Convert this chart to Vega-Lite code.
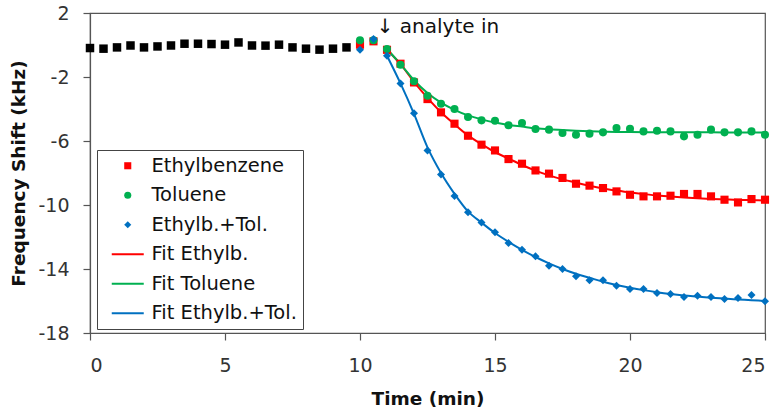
{
  "$schema": "https://vega.github.io/schema/vega-lite/v6.json",
  "autosize": "none",
  "width": 675,
  "height": 320,
  "padding": {"left": 90, "top": 13, "right": 13, "bottom": 87},
  "config": {
    "font": "DejaVu Sans",
    "view": {"stroke": "#555", "strokeWidth": 1.2},
    "axis": {
      "grid": false,
      "domainColor": "#555",
      "tickColor": "#555",
      "domainWidth": 1.2,
      "tickWidth": 1.2,
      "tickSize": 7,
      "labelFont": "DejaVu Sans",
      "labelFontSize": 19,
      "labelColor": "#333",
      "titleFont": "DejaVu Sans",
      "titleFontSize": 18.5,
      "titleFontWeight": "bold",
      "titleColor": "#111"
    }
  },
  "datasets": {
    "base": [
      {"t": 0, "v": -0.19}, {"t": 0.5, "v": -0.23}, {"t": 1, "v": -0.15}, {"t": 1.5, "v": -0.03},
      {"t": 2, "v": -0.15}, {"t": 2.5, "v": -0.09}, {"t": 3, "v": -0.03}, {"t": 3.5, "v": 0.08},
      {"t": 4, "v": 0.08}, {"t": 4.5, "v": 0.06}, {"t": 5, "v": 0.02}, {"t": 5.5, "v": 0.16},
      {"t": 6, "v": -0.03}, {"t": 6.5, "v": -0.04}, {"t": 7, "v": 0.02}, {"t": 7.5, "v": -0.15},
      {"t": 8, "v": -0.23}, {"t": 8.5, "v": -0.29}, {"t": 9, "v": -0.23}, {"t": 9.5, "v": -0.15}
    ],
    "pts": [
      {"s": "Ethylbenzene", "t": 10, "v": 0.02}, {"s": "Ethylbenzene", "t": 10.5, "v": 0.23}, {"s": "Ethylbenzene", "t": 11, "v": -0.3},
      {"s": "Ethylbenzene", "t": 11.5, "v": -1.17}, {"s": "Ethylbenzene", "t": 12, "v": -2.34}, {"s": "Ethylbenzene", "t": 12.5, "v": -3.38},
      {"s": "Ethylbenzene", "t": 13, "v": -4.21}, {"s": "Ethylbenzene", "t": 13.5, "v": -4.92}, {"s": "Ethylbenzene", "t": 14, "v": -5.67},
      {"s": "Ethylbenzene", "t": 14.5, "v": -6.23}, {"s": "Ethylbenzene", "t": 15, "v": -6.59}, {"s": "Ethylbenzene", "t": 15.5, "v": -7.13},
      {"s": "Ethylbenzene", "t": 16, "v": -7.42}, {"s": "Ethylbenzene", "t": 16.5, "v": -7.84}, {"s": "Ethylbenzene", "t": 17, "v": -8.04},
      {"s": "Ethylbenzene", "t": 17.5, "v": -8.31}, {"s": "Ethylbenzene", "t": 18, "v": -8.67}, {"s": "Ethylbenzene", "t": 18.5, "v": -8.79},
      {"s": "Ethylbenzene", "t": 19, "v": -8.94}, {"s": "Ethylbenzene", "t": 19.5, "v": -9.15}, {"s": "Ethylbenzene", "t": 20, "v": -9.36},
      {"s": "Ethylbenzene", "t": 20.5, "v": -9.46}, {"s": "Ethylbenzene", "t": 21, "v": -9.46}, {"s": "Ethylbenzene", "t": 21.5, "v": -9.42},
      {"s": "Ethylbenzene", "t": 22, "v": -9.31}, {"s": "Ethylbenzene", "t": 22.5, "v": -9.31}, {"s": "Ethylbenzene", "t": 23, "v": -9.46},
      {"s": "Ethylbenzene", "t": 23.5, "v": -9.67}, {"s": "Ethylbenzene", "t": 24, "v": -9.84}, {"s": "Ethylbenzene", "t": 24.5, "v": -9.63},
      {"s": "Ethylbenzene", "t": 25, "v": -9.67},
      {"s": "Toluene", "t": 10, "v": 0.29}, {"s": "Toluene", "t": 10.5, "v": 0.3}, {"s": "Toluene", "t": 11, "v": -0.25},
      {"s": "Toluene", "t": 11.5, "v": -1.23}, {"s": "Toluene", "t": 12, "v": -2.27}, {"s": "Toluene", "t": 12.5, "v": -3.17},
      {"s": "Toluene", "t": 13, "v": -3.67}, {"s": "Toluene", "t": 13.5, "v": -4.0}, {"s": "Toluene", "t": 14, "v": -4.5},
      {"s": "Toluene", "t": 14.5, "v": -4.71}, {"s": "Toluene", "t": 15, "v": -4.73}, {"s": "Toluene", "t": 15.5, "v": -5.02},
      {"s": "Toluene", "t": 16, "v": -4.88}, {"s": "Toluene", "t": 16.5, "v": -5.25}, {"s": "Toluene", "t": 17, "v": -5.29},
      {"s": "Toluene", "t": 17.5, "v": -5.5}, {"s": "Toluene", "t": 18, "v": -5.61}, {"s": "Toluene", "t": 18.5, "v": -5.54},
      {"s": "Toluene", "t": 19, "v": -5.46}, {"s": "Toluene", "t": 19.5, "v": -5.19}, {"s": "Toluene", "t": 20, "v": -5.23},
      {"s": "Toluene", "t": 20.5, "v": -5.4}, {"s": "Toluene", "t": 21, "v": -5.36}, {"s": "Toluene", "t": 21.5, "v": -5.4},
      {"s": "Toluene", "t": 22, "v": -5.71}, {"s": "Toluene", "t": 22.5, "v": -5.61}, {"s": "Toluene", "t": 23, "v": -5.29},
      {"s": "Toluene", "t": 23.5, "v": -5.46}, {"s": "Toluene", "t": 24, "v": -5.46}, {"s": "Toluene", "t": 24.5, "v": -5.4},
      {"s": "Toluene", "t": 25, "v": -5.61},
      {"s": "Ethylb.+Tol.", "t": 10, "v": -0.29}, {"s": "Ethylb.+Tol.", "t": 10.5, "v": 0.37}, {"s": "Ethylb.+Tol.", "t": 11, "v": -0.67},
      {"s": "Ethylb.+Tol.", "t": 11.5, "v": -2.4}, {"s": "Ethylb.+Tol.", "t": 12, "v": -4.27}, {"s": "Ethylb.+Tol.", "t": 12.5, "v": -6.59},
      {"s": "Ethylb.+Tol.", "t": 13, "v": -8.1}, {"s": "Ethylb.+Tol.", "t": 13.5, "v": -9.44}, {"s": "Ethylb.+Tol.", "t": 14, "v": -10.46},
      {"s": "Ethylb.+Tol.", "t": 14.5, "v": -11.09}, {"s": "Ethylb.+Tol.", "t": 15, "v": -11.71}, {"s": "Ethylb.+Tol.", "t": 15.5, "v": -12.38},
      {"s": "Ethylb.+Tol.", "t": 16, "v": -12.79}, {"s": "Ethylb.+Tol.", "t": 16.5, "v": -13.21}, {"s": "Ethylb.+Tol.", "t": 17, "v": -13.79},
      {"s": "Ethylb.+Tol.", "t": 17.5, "v": -14.0}, {"s": "Ethylb.+Tol.", "t": 18, "v": -14.46}, {"s": "Ethylb.+Tol.", "t": 18.5, "v": -14.71},
      {"s": "Ethylb.+Tol.", "t": 19, "v": -14.71}, {"s": "Ethylb.+Tol.", "t": 19.5, "v": -15.04}, {"s": "Ethylb.+Tol.", "t": 20, "v": -15.25},
      {"s": "Ethylb.+Tol.", "t": 20.5, "v": -15.25}, {"s": "Ethylb.+Tol.", "t": 21, "v": -15.5}, {"s": "Ethylb.+Tol.", "t": 21.5, "v": -15.56},
      {"s": "Ethylb.+Tol.", "t": 22, "v": -15.75}, {"s": "Ethylb.+Tol.", "t": 22.5, "v": -15.67}, {"s": "Ethylb.+Tol.", "t": 23, "v": -15.75},
      {"s": "Ethylb.+Tol.", "t": 23.5, "v": -15.88}, {"s": "Ethylb.+Tol.", "t": 24, "v": -15.81}, {"s": "Ethylb.+Tol.", "t": 24.5, "v": -15.63},
      {"s": "Ethylb.+Tol.", "t": 25, "v": -16.02}
    ],
    "fits": [
      {"s": "Fit Ethylb.", "t": 11, "v": -0.3}, {"s": "Fit Ethylb.", "t": 11.5, "v": -1.2}, {"s": "Fit Ethylb.", "t": 12, "v": -2.3},
      {"s": "Fit Ethylb.", "t": 12.5, "v": -3.3}, {"s": "Fit Ethylb.", "t": 13, "v": -4.2}, {"s": "Fit Ethylb.", "t": 13.5, "v": -4.95},
      {"s": "Fit Ethylb.", "t": 14, "v": -5.65}, {"s": "Fit Ethylb.", "t": 14.5, "v": -6.2}, {"s": "Fit Ethylb.", "t": 15, "v": -6.7},
      {"s": "Fit Ethylb.", "t": 15.5, "v": -7.1}, {"s": "Fit Ethylb.", "t": 16, "v": -7.5}, {"s": "Fit Ethylb.", "t": 16.5, "v": -7.85},
      {"s": "Fit Ethylb.", "t": 17, "v": -8.15}, {"s": "Fit Ethylb.", "t": 17.5, "v": -8.4}, {"s": "Fit Ethylb.", "t": 18, "v": -8.6},
      {"s": "Fit Ethylb.", "t": 18.5, "v": -8.8}, {"s": "Fit Ethylb.", "t": 19, "v": -8.97}, {"s": "Fit Ethylb.", "t": 19.5, "v": -9.1},
      {"s": "Fit Ethylb.", "t": 20, "v": -9.22}, {"s": "Fit Ethylb.", "t": 20.5, "v": -9.32}, {"s": "Fit Ethylb.", "t": 21, "v": -9.4},
      {"s": "Fit Ethylb.", "t": 21.5, "v": -9.47}, {"s": "Fit Ethylb.", "t": 22, "v": -9.53}, {"s": "Fit Ethylb.", "t": 22.5, "v": -9.58},
      {"s": "Fit Ethylb.", "t": 23, "v": -9.62}, {"s": "Fit Ethylb.", "t": 23.5, "v": -9.65}, {"s": "Fit Ethylb.", "t": 24, "v": -9.68},
      {"s": "Fit Ethylb.", "t": 24.5, "v": -9.7}, {"s": "Fit Ethylb.", "t": 25, "v": -9.72},
      {"s": "Fit Toluene", "t": 11, "v": -0.25}, {"s": "Fit Toluene", "t": 11.5, "v": -1.2}, {"s": "Fit Toluene", "t": 12, "v": -2.2},
      {"s": "Fit Toluene", "t": 12.5, "v": -3.0}, {"s": "Fit Toluene", "t": 13, "v": -3.6}, {"s": "Fit Toluene", "t": 13.5, "v": -4.05},
      {"s": "Fit Toluene", "t": 14, "v": -4.4}, {"s": "Fit Toluene", "t": 14.5, "v": -4.65}, {"s": "Fit Toluene", "t": 15, "v": -4.85},
      {"s": "Fit Toluene", "t": 15.5, "v": -5.0}, {"s": "Fit Toluene", "t": 16, "v": -5.1}, {"s": "Fit Toluene", "t": 16.5, "v": -5.2},
      {"s": "Fit Toluene", "t": 17, "v": -5.27}, {"s": "Fit Toluene", "t": 17.5, "v": -5.32}, {"s": "Fit Toluene", "t": 18, "v": -5.36},
      {"s": "Fit Toluene", "t": 18.5, "v": -5.39}, {"s": "Fit Toluene", "t": 19, "v": -5.41}, {"s": "Fit Toluene", "t": 19.5, "v": -5.43},
      {"s": "Fit Toluene", "t": 20, "v": -5.44}, {"s": "Fit Toluene", "t": 21, "v": -5.45}, {"s": "Fit Toluene", "t": 22, "v": -5.46},
      {"s": "Fit Toluene", "t": 23, "v": -5.46}, {"s": "Fit Toluene", "t": 24, "v": -5.47}, {"s": "Fit Toluene", "t": 25, "v": -5.47},
      {"s": "Fit Ethylb.+Tol.", "t": 11, "v": -0.67}, {"s": "Fit Ethylb.+Tol.", "t": 11.5, "v": -2.4}, {"s": "Fit Ethylb.+Tol.", "t": 12, "v": -4.3},
      {"s": "Fit Ethylb.+Tol.", "t": 12.5, "v": -6.4}, {"s": "Fit Ethylb.+Tol.", "t": 13, "v": -8.0}, {"s": "Fit Ethylb.+Tol.", "t": 13.5, "v": -9.3},
      {"s": "Fit Ethylb.+Tol.", "t": 14, "v": -10.4}, {"s": "Fit Ethylb.+Tol.", "t": 14.5, "v": -11.1}, {"s": "Fit Ethylb.+Tol.", "t": 15, "v": -11.75},
      {"s": "Fit Ethylb.+Tol.", "t": 15.5, "v": -12.3}, {"s": "Fit Ethylb.+Tol.", "t": 16, "v": -12.8}, {"s": "Fit Ethylb.+Tol.", "t": 16.5, "v": -13.25},
      {"s": "Fit Ethylb.+Tol.", "t": 17, "v": -13.65}, {"s": "Fit Ethylb.+Tol.", "t": 17.5, "v": -14.0}, {"s": "Fit Ethylb.+Tol.", "t": 18, "v": -14.3},
      {"s": "Fit Ethylb.+Tol.", "t": 18.5, "v": -14.55}, {"s": "Fit Ethylb.+Tol.", "t": 19, "v": -14.8}, {"s": "Fit Ethylb.+Tol.", "t": 19.5, "v": -15.0},
      {"s": "Fit Ethylb.+Tol.", "t": 20, "v": -15.17}, {"s": "Fit Ethylb.+Tol.", "t": 20.5, "v": -15.32}, {"s": "Fit Ethylb.+Tol.", "t": 21, "v": -15.45},
      {"s": "Fit Ethylb.+Tol.", "t": 21.5, "v": -15.56}, {"s": "Fit Ethylb.+Tol.", "t": 22, "v": -15.65}, {"s": "Fit Ethylb.+Tol.", "t": 22.5, "v": -15.72},
      {"s": "Fit Ethylb.+Tol.", "t": 23, "v": -15.79}, {"s": "Fit Ethylb.+Tol.", "t": 23.5, "v": -15.85}, {"s": "Fit Ethylb.+Tol.", "t": 24, "v": -15.9},
      {"s": "Fit Ethylb.+Tol.", "t": 24.5, "v": -15.95}, {"s": "Fit Ethylb.+Tol.", "t": 25, "v": -16.0}
    ],
    "note": [{"t": 10.62, "v": 1.15, "label": "↓ analyte in"}]
  },
  "encoding": {
    "x": {"field": "t", "type": "quantitative", "title": "Time (min)",
          "scale": {"domain": [0, 25], "nice": false, "zero": false},
          "axis": {"values": [0, 5, 10, 15, 20, 25], "labelPadding": 16, "titlePadding": 14}},
    "y": {"field": "v", "type": "quantitative", "title": "Frequency Shift (kHz)",
          "scale": {"domain": [-18, 2], "nice": false, "zero": false},
          "axis": {"values": [-18, -14, -10, -6, -2, 2], "labelExpr": "toString(datum.value)", "labelPadding": 14, "titlePadding": 9}}
  },
  "layer": [
    {
      "data": {"name": "fits"},
      "mark": {"type": "line", "strokeWidth": 2, "interpolate": "monotone"},
      "encoding": {
        "color": {"field": "s", "type": "nominal",
                  "scale": {"domain": ["Ethylbenzene", "Toluene", "Ethylb.+Tol.", "Fit Ethylb.", "Fit Toluene", "Fit Ethylb.+Tol."],
                            "range": ["#FF0000", "#00B050", "#0070C0", "#FF0000", "#00B050", "#0070C0"]}},
        "detail": {"field": "s"}
      }
    },
    {
      "data": {"name": "base"},
      "mark": {"type": "point", "shape": "square", "filled": true, "size": 72, "color": "#000", "opacity": 1},
      "encoding": {}
    },
    {
      "data": {"name": "pts"},
      "mark": {"type": "point", "filled": true, "opacity": 1},
      "encoding": {
        "color": {"field": "s", "type": "nominal",
                  "scale": {"domain": ["Ethylbenzene", "Toluene", "Ethylb.+Tol.", "Fit Ethylb.", "Fit Toluene", "Fit Ethylb.+Tol."],
                            "range": ["#FF0000", "#00B050", "#0070C0", "#FF0000", "#00B050", "#0070C0"]},
                  "legend": {
                    "title": null, "orient": "none", "legendX": 7, "legendY": 137,
                    "padding": 6, "strokeColor": "#444", "fillColor": "#fff",
                    "labelFont": "DejaVu Sans", "labelFontSize": 19.5, "labelColor": "#111", "labelOffset": 14,
                    "rowPadding": 8.5, "symbolOffset": 15, "symbolSize": 64,
                    "encoding": {"symbols": {
                      "size": {"value": {"expr": "indexof(['Fit Ethylb.', 'Fit Toluene', 'Fit Ethylb.+Tol.'], datum.value) >= 0 ? 1024 : 50"}},
                      "stroke": {"value": {"expr": "scale('color', datum.value)"}},
                      "strokeWidth": {"value": {"expr": "indexof(['Fit Ethylb.', 'Fit Toluene', 'Fit Ethylb.+Tol.'], datum.value) >= 0 ? 2 : 0"}}
                    }}
                  }},
        "shape": {"field": "s", "type": "nominal",
                  "scale": {"domain": ["Ethylbenzene", "Toluene", "Ethylb.+Tol.", "Fit Ethylb.", "Fit Toluene", "Fit Ethylb.+Tol."],
                            "range": ["square", "circle", "diamond", "stroke", "stroke", "stroke"]}},
        "size": {"field": "s", "type": "nominal", "legend": null,
                 "scale": {"domain": ["Ethylbenzene", "Toluene", "Ethylb.+Tol."], "range": [66, 64, 115]}}
      }
    },
    {
      "data": {"name": "note"},
      "mark": {"type": "text", "align": "left", "baseline": "middle", "fontSize": 20, "font": "DejaVu Sans", "color": "#111"},
      "encoding": {"text": {"field": "label"}}
    }
  ]
}
